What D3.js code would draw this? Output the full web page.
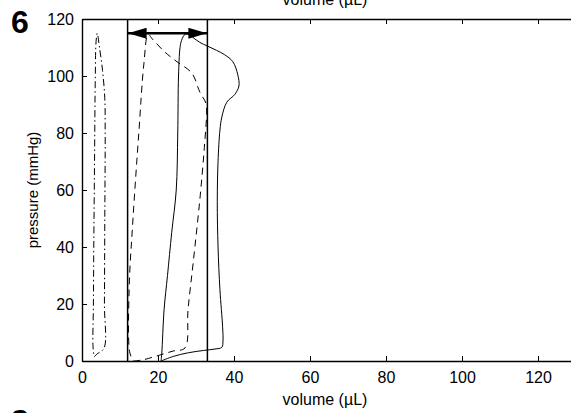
<!DOCTYPE html>
<html>
<head>
<meta charset="utf-8">
<script src="https://cdn.jsdelivr.net/npm/d3@7"></script>
<style>
  body { margin: 0; background: #fff; }
  svg { display: block; font-family: "Liberation Sans", Arial, sans-serif; }
  .axis path, .axis line { stroke: #000; }
  .axis text { fill: #000; font-size: 16px; }
</style>
</head>
<body>
<script>
"use strict";

// volume (uL) / pressure (mmHg) loops
var dashDotVol = [3.2, 4.0, 5.8, 5.9, 6.0, 6.1, 6.0, 5.4, 4.6, 4.0, 3.7, 3.5, 3.3, 3.1, 3.0, 2.9, 3.2];
var dashDotP   = [1.5, 2.5, 4.5, 20, 50, 80, 92, 102, 110, 115, 112, 100, 70, 40, 20, 5, 1.5];

var dashedVol = [13.5, 16, 20.5, 24, 27.1, 27.9, 29.3, 31, 32.2, 32.8, 32.6, 31, 28.9, 25, 21.8, 18.5, 17.4, 16.3, 15, 13.4, 12.4, 12.6, 13.5];
var dashedP   = [0, 0.4, 2.1, 3.5, 4.6, 18, 35, 56.5, 75, 88, 90.5, 94.4, 101, 105, 108.4, 113, 114.6, 104.5, 81, 49.5, 25, 2.8, 0];

var solidVol = [20.8, 24, 28, 32, 35, 36.8, 37.1, 37.0, 36.3, 35.8, 35.6, 35.8, 36.3, 36.8, 38.1, 40.2, 41.3, 41.0, 39.7, 37.5, 35.4, 33, 31, 29.5, 28.2, 27.1, 26.2, 25.8, 25.4, 25.2, 24.8, 23.6, 22.5, 21.6, 21.0, 20.8];
var solidP   = [0, 1.6, 2.9, 3.7, 4.2, 4.8, 7, 12, 25, 40, 56, 70, 81, 85.6, 90.8, 93.5, 96.5, 100.4, 105, 107.5, 109, 110.5, 111.8, 113.2, 114.5, 114.6, 112.5, 110, 100, 80, 60, 45, 30, 18, 2.8, 0];

var markerVols = [12, 33];      // vertical reference lines
var arrowVols = [12, 33];       // double arrow
var arrowP = 115;

var xTicks = [0, 20, 40, 60, 80, 100, 120];
var yTicks = [0, 20, 40, 60, 80, 100, 120];

var W = 571, H = 413;
var margin = {top: 19, left: 82},
    width = 494,
    height = 342;

var svg = d3.select("body").append("svg")
    .attr("width", W)
    .attr("height", H);

var xScale = d3.scaleLinear().domain([0, 130]).range([0, width]);
var yScale = d3.scaleLinear().domain([0, 120]).range([height, 0]);

var view = svg.append("g")
    .attr("transform", "translate(" + margin.left + "," + margin.top + ")");

// axes, MATLAB style: ticks inward on all four sides
view.append("g")
    .attr("class", "axis")
    .attr("transform", "translate(0," + height + ")")
    .call(d3.axisBottom(xScale).tickValues(xTicks).tickSizeInner(-5).tickSizeOuter(0).tickPadding(8))
    .call(function(g) { g.selectAll("text").attr("dy", "0.85em"); });
view.append("g")
    .attr("class", "axis")
    .call(d3.axisTop(xScale).tickValues(xTicks).tickSizeInner(-5).tickSizeOuter(0).tickFormat(""));
view.append("g")
    .attr("class", "axis")
    .call(d3.axisLeft(yScale).tickValues(yTicks).tickSizeInner(-5).tickSizeOuter(0).tickPadding(8));
view.append("g")
    .attr("class", "axis")
    .attr("transform", "translate(" + width + ",0)")
    .call(d3.axisRight(yScale).tickValues(yTicks).tickSizeInner(-5).tickSizeOuter(0).tickFormat(""));
view.selectAll(".axis path").attr("stroke-width", 1.4);

// loops
var line = d3.line()
    .x(function(d) { return xScale(d[0]); })
    .y(function(d) { return yScale(d[1]); })
    .curve(d3.curveCatmullRom.alpha(0.5));

function pairs(vs, ps) { return vs.map(function(v, i) { return [v, ps[i]]; }); }

view.append("path")
    .datum(pairs(dashDotVol, dashDotP))
    .attr("fill", "none").attr("stroke", "#000").attr("stroke-width", 1)
    .attr("stroke-dasharray", "7,3,1.5,3")
    .attr("d", line);
view.append("path")
    .datum(pairs(dashedVol, dashedP))
    .attr("fill", "none").attr("stroke", "#000").attr("stroke-width", 1)
    .attr("stroke-dasharray", "7,5")
    .attr("d", line);
view.append("path")
    .datum(pairs(solidVol, solidP))
    .attr("fill", "none").attr("stroke", "#000").attr("stroke-width", 1)
    .attr("d", line);

// vertical reference lines
view.selectAll(".marker")
    .data(markerVols)
  .enter().append("line")
    .attr("class", "marker")
    .attr("x1", function(d) { return xScale(d); })
    .attr("x2", function(d) { return xScale(d); })
    .attr("y1", 0).attr("y2", height)
    .attr("stroke", "#000").attr("stroke-width", 1.5);

// double arrow
var defs = svg.append("defs");
defs.append("marker")
    .attr("id", "head")
    .attr("viewBox", "0 0 19 11")
    .attr("refX", 19).attr("refY", 5.5)
    .attr("markerWidth", 19).attr("markerHeight", 11)
    .attr("markerUnits", "userSpaceOnUse")
    .attr("orient", "auto-start-reverse")
  .append("path")
    .attr("d", "M0,0L19,5.5L0,11Z")
    .attr("fill", "#000");

view.append("line")
    .attr("x1", xScale(arrowVols[0])).attr("x2", xScale(arrowVols[1]))
    .attr("y1", yScale(arrowP)).attr("y2", yScale(arrowP))
    .attr("stroke", "#000").attr("stroke-width", 2.5)
    .attr("marker-start", "url(#head)")
    .attr("marker-end", "url(#head)");

// labels
svg.append("text")
    .attr("x", margin.left + width / 2 - 4).attr("y", 405)
    .attr("text-anchor", "middle").attr("font-size", 16)
    .text("volume (\u00b5L)");
svg.append("text")
    .attr("transform", "translate(38," + (margin.top + height / 2) + ") rotate(-90)")
    .attr("text-anchor", "middle").attr("font-size", 15)
    .text("pressure (mmHg)");

// cut-off label of the panel above
svg.append("text")
    .attr("x", margin.left + width / 2 - 4).attr("y", 5)
    .attr("text-anchor", "middle").attr("font-size", 16)
    .text("volume (\u00b5L)");

// panel letters
svg.append("text")
    .attr("x", 11).attr("y", 33)
    .attr("font-size", 32).attr("font-weight", "bold")
    .text("6");
svg.append("text")
    .attr("x", 11).attr("y", 432)
    .attr("font-size", 32).attr("font-weight", "bold")
    .text("8");
</script>
</body>
</html>
